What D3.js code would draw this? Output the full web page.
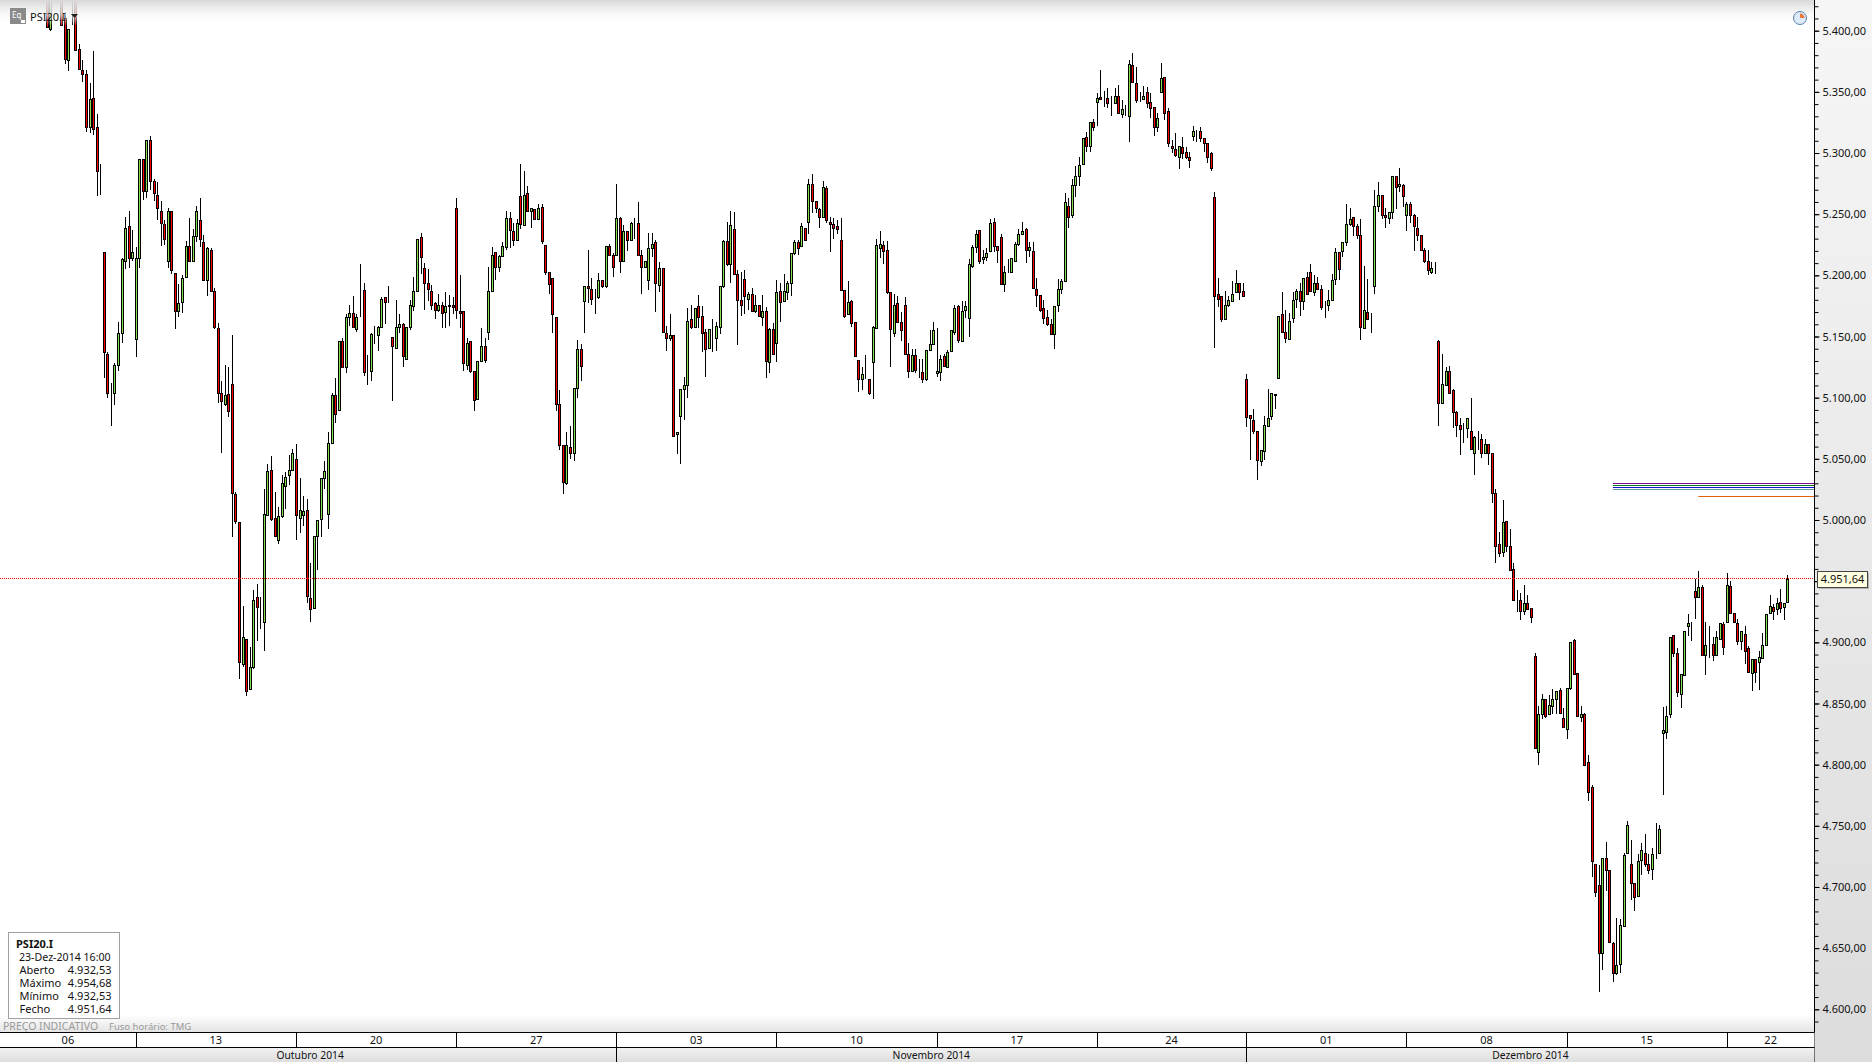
<!DOCTYPE html>
<html><head><meta charset="utf-8">
<script src="https://cdnjs.cloudflare.com/ajax/libs/d3/7.8.5/d3.min.js"></script>
<style>html,body{margin:0;padding:0;background:#fff;overflow:hidden}svg{display:block}text{font-family:"Noto Sans",sans-serif;font-size:11px;fill:#111}</style>
</head><body><svg id="c" width="1872" height="1062"></svg>
<script>
const opens=[5450,5401,5470,5445,5450,5410,5376,5430,5435,5385,5368,5365,5321,5345,5321,5285,5219,5136,5104,5104,5127,5153,
5212,5240,5214,5148,5214,5295,5269,5311,5277,5266,5253,5242,5212,5253,5202,5171,5178,5199,5224,5212,5232,5245,5227,5196,5221,5187,5157,
5104,5095,5103,5111,5021,4998,4882,4903,4862,4880,4937,4928,4917,5004,5041,5002,4984,5003,5028,5037,5041,5050,5002,5004,5008,4936,4928,4987,5001,5034,5005,5063,5102,5090,
5146,5125,5166,5169,5156,5190,5188,5122,5122,5151,5151,5158,5182,5178,5150,5141,5158,5160,5132,5158,5175,5187,5231,5206,5194,5187,5177,5172,5176,5170,5176,5176,5255,5171,5171,5127,5146,5122,5099,5130,5142,5154,5187,5219,5207,5216,5223,5247,5236,5229,5265,5241,5267,5253,5254,5246,5256,5225,5203,5198,5166,5095,5061,5030,5060,5055,5108,5140,5179,5191,5189,5182,5182,5196,5191,5224,5217,5217,5247,5212,5236,5229,5243,5243,
5217,5207,5196,5222,5227,5192,5206,5153,5149,5151,
5070,5085,5107,5110,5164,5158,5175,5167,5154,5141,
5150,5149,5158,5191,5228,5209,5238,5201,5180,5197,
5181,5185,5171,5176,5166,5171,5129,5156,5145,5187,
5179,5186,5194,5218,5227,5224,5239,5244,5275,5261,
5254,5248,5271,5244,5242,5240,5229,5188,5168,5179,
5162,5131,5115,5117,5115,5129,5157,5222,5225,5221,
5186,5153,5177,5162,5176,5136,5122,5135,5122,5121,
5115,5139,5144,5120,5121,5134,5125,5138,5154,5175,
5146,5172,5165,5208,5223,5237,5213,5215,5220,5244,
5224,5231,5193,5203,5203,5212,5226,5234,5238,5221,
5220,5189,5184,5173,5166,5160,5152,5176,5189,5195,
5257,5249,5274,5281,5291,5313,5306,5325,5342,5346,
5345,5345,5342,5341,5347,5332,5337,5330,5372,5357,
5344,5344,5350,5342,5338,5321,5350,5362,5334,5306,
5303,5297,5305,5301,5297,5314,5318,5318,5312,5308,
5300,5264,5185,5183,5164,5176,5179,5186,5194,5187,
5115,5086,5082,5073,5048,5056,5077,5085,5103,5116,
5168,5154,5148,5165,5181,5187,5179,5199,5203,5186,
5194,5189,5177,5176,5180,5197,5219,5220,5227,5242,
5248,5240,5233,5157,5170,5165,5191,5257,5266,5249,
5247,5252,5281,5273,5274,5249,5258,5249,5239,5233,
5221,5212,5203,5206,5146,5096,5110,5122,5106,5088,
5078,5076,5075,5073,5055,5067,5066,5055,5062,5055,
5022,4980,4974,4999,4979,4960,4936,4935,4926,4932,
4928,4889,4810,4841,4854,4841,4848,4854,4861,4838,
4829,4863,4902,4875,4839,4841,4802,4782,4719,4702,
4646,4724,4714,4654,4630,4637,4668,4728,4719,4703,
4693,4722,4728,4719,4715,4728,4728,4826,4827,4841,
4906,4891,4858,4873,4913,4914,4942,4937,4945,4890,
4899,4899,4890,4903,4915,4917,4946,4924,4916,4901,
4907,4895,4875,4886,4884,4887,4898,4924,4929,4927,
4933,4929,4933];
const closes=[5403,5445,5450,5465,5405,5377,5401,5445,5384,5369,5365,5321,5344,5320,5285,5285,5137,5104,5104,5127,5153,5213,
5239,5214,5219,5214,5295,5269,5311,5277,5267,5255,5243,5230,5253,5204,5171,5177,5198,5224,5212,5232,5253,5230,5196,5222,5187,5158,5104,
5097,5102,5089,5022,4999,4884,4904,4860,4880,4935,4929,4928,5005,5040,5001,4987,5003,5030,5035,5041,5055,5004,5008,5007,4938,4927,4987,5000,5034,5040,5063,5102,5087,5146,
5125,5166,5169,5158,5166,5190,5121,5122,5152,5151,5158,5181,5178,5178,5142,5158,5160,5134,5158,5176,5187,5230,5215,5194,5189,5176,5172,5176,5169,5175,5175,5174,5172,5169,5128,5145,5122,5098,5130,5142,5131,5187,5217,5207,5216,5224,5247,5237,5229,5243,5242,5266,5253,5255,5246,5255,5228,5203,5193,5168,5095,5061,5031,5061,5055,5108,5140,5126,5191,5190,5181,5182,5196,5191,5224,5217,5207,5247,5212,5236,5229,5243,5243,5217,
5207,5212,5222,5226,5194,5206,5154,5149,5151,5069,
5072,5107,5110,5163,5158,5173,5166,5153,5140,5156,
5150,5159,5191,5228,5209,5241,5201,5180,5176,5183,
5185,5171,5176,5167,5171,5130,5156,5136,5186,5178,
5187,5194,5218,5227,5222,5240,5229,5275,5261,5255,
5248,5272,5245,5242,5239,5238,5188,5167,5178,5161,
5134,5115,5119,5117,5104,5158,5225,5226,5220,5186,
5156,5176,5162,5155,5136,5122,5135,5123,5122,5115,
5139,5144,5155,5122,5132,5126,5137,5155,5173,5147,
5171,5175,5209,5223,5234,5212,5215,5218,5243,5224,
5221,5193,5203,5203,5214,5226,5234,5236,5221,5223,
5190,5184,5172,5165,5160,5152,5175,5189,5195,5260,
5248,5274,5281,5290,5312,5306,5325,5321,5345,5344,
5345,5341,5342,5347,5333,5336,5337,5373,5358,5343,
5344,5347,5341,5337,5321,5329,5361,5333,5308,5304,
5298,5306,5300,5297,5294,5318,5318,5312,5308,5297,
5288,5183,5181,5164,5176,5180,5185,5194,5186,5183,
5084,5083,5073,5049,5057,5078,5083,5104,5102,5167,
5154,5149,5163,5180,5187,5179,5198,5185,5187,5194,
5189,5174,5177,5180,5196,5219,5205,5227,5242,5246,
5240,5233,5158,5172,5164,5165,5257,5266,5249,5248,
5252,5281,5272,5275,5265,5258,5249,5240,5233,5221,
5212,5204,5206,5206,5096,5111,5122,5104,5088,5078,
5074,5076,5083,5058,5068,5067,5055,5062,5055,5022,
4979,4973,4998,4979,4959,4935,4936,4926,4932,4927,
4921,4814,4841,4854,4840,4849,4854,4860,4842,4831,
4863,4900,4874,4840,4841,4800,4778,4721,4696,4646,
4724,4714,4655,4630,4636,4669,4726,4751,4703,4692,
4721,4730,4719,4714,4727,4728,4747,4828,4840,4904,
4891,4859,4874,4909,4916,4914,4937,4945,4890,4898,
4899,4890,4904,4916,4896,4947,4924,4917,4901,4909,
4893,4876,4886,4876,4888,4898,4923,4930,4926,4932,
4928,4932,4952];
const highs=[5455,5450,5480,5470,5455,5415,5401,5450,5440,5389,5376,5368,5357,5383,5332,5291,5219,5137,5112,5128,5162,5214,
5248,5253,5237,5223,5295,5295,5311,5314,5279,5276,5261,5245,5255,5253,5202,5193,5200,5228,5247,5238,5257,5263,5233,5223,5222,5190,5161,
5114,5127,5125,5151,5023,4998,4930,4903,4896,4943,4948,4937,5025,5046,5052,5023,5011,5037,5039,5053,5058,5062,5034,5020,5017,4965,4987,5000,5034,5048,5072,5104,5116,5146,
5149,5168,5176,5183,5168,5209,5194,5135,5153,5159,5159,5182,5182,5191,5150,5180,5168,5161,5158,5180,5199,5230,5235,5210,5205,5192,5178,5185,5178,5186,5184,5182,5263,5200,5171,5149,5146,5122,5130,5157,5149,5207,5223,5219,5217,5227,5253,5252,5243,5246,5291,5285,5273,5255,5254,5258,5258,5225,5203,5198,5166,5106,5061,5072,5077,5108,5147,5144,5191,5221,5198,5189,5202,5196,5224,5226,5218,5275,5248,5241,5236,5244,5247,5260,
5221,5212,5235,5235,5229,5211,5206,5159,5168,5151,
5072,5107,5117,5173,5176,5173,5184,5175,5156,5156,
5164,5162,5191,5229,5244,5253,5252,5204,5203,5204,
5186,5190,5184,5176,5184,5174,5157,5161,5196,5194,
5201,5195,5218,5229,5229,5243,5239,5279,5283,5261,
5255,5277,5273,5248,5247,5245,5247,5188,5195,5180,
5162,5131,5125,5135,5115,5159,5230,5236,5228,5228,
5186,5185,5183,5170,5182,5145,5140,5140,5132,5132,
5139,5155,5162,5157,5135,5136,5139,5155,5176,5176,
5179,5179,5213,5225,5237,5237,5221,5222,5246,5247,
5224,5234,5208,5213,5214,5227,5238,5244,5239,5227,
5227,5198,5184,5180,5172,5164,5175,5197,5197,5267,
5263,5279,5289,5297,5312,5317,5325,5328,5349,5368,
5351,5353,5347,5353,5356,5343,5339,5376,5382,5370,
5350,5355,5354,5349,5338,5333,5374,5362,5337,5311,
5316,5306,5313,5305,5301,5322,5319,5321,5312,5308,
5301,5268,5198,5183,5187,5183,5195,5204,5194,5194,
5119,5086,5091,5073,5057,5085,5107,5104,5103,5167,
5186,5172,5169,5186,5189,5194,5198,5203,5209,5200,
5199,5192,5179,5188,5201,5222,5219,5227,5258,5255,
5248,5242,5246,5208,5197,5169,5270,5276,5266,5255,
5252,5281,5281,5288,5275,5260,5260,5250,5248,5233,
5222,5221,5211,5211,5147,5136,5125,5126,5107,5089,
5083,5079,5083,5100,5069,5073,5070,5066,5062,5055,
5025,4990,5016,4999,4993,4965,4943,4940,4947,4939,
4928,4891,4848,4858,4854,4857,4862,4860,4863,4846,
4863,4900,4903,4875,4848,4842,4808,4783,4719,4718,
4724,4737,4714,4655,4675,4674,4728,4754,4738,4703,
4727,4736,4743,4727,4732,4752,4751,4847,4848,4904,
4906,4895,4874,4909,4923,4917,4952,4958,4947,4917,
4913,4904,4909,4916,4917,4957,4950,4924,4919,4909,
4913,4897,4886,4886,4893,4908,4923,4939,4931,4936,
4944,4932,4955];
const lows=[5403,5400,5445,5440,5405,5373,5367,5405,5383,5369,5358,5317,5316,5315,5265,5266,5116,5100,5077,5094,5122,5145,
5205,5206,5212,5133,5206,5262,5263,5270,5261,5245,5224,5225,5206,5201,5156,5166,5169,5199,5212,5212,5227,5223,5195,5183,5187,5156,5096,
5055,5093,5084,4986,4997,4870,4880,4856,4862,4878,4901,4911,4893,5004,4999,4986,4980,5002,5009,5029,5040,4984,4989,4995,4932,4917,4927,4959,4986,5025,4993,5063,5079,5089,
5125,5120,5159,5158,5154,5166,5118,5110,5114,5144,5138,5158,5160,5177,5097,5141,5153,5125,5132,5155,5171,5186,5201,5172,5179,5172,5164,5170,5157,5157,5159,5168,5164,5157,5122,5123,5120,5089,5098,5129,5128,5147,5187,5196,5203,5215,5221,5222,5224,5228,5238,5241,5253,5239,5245,5245,5226,5200,5185,5153,5089,5057,5021,5029,5050,5048,5100,5114,5153,5177,5176,5168,5181,5190,5190,5217,5199,5217,5202,5212,5220,5228,5230,5216,
5185,5207,5188,5215,5170,5186,5154,5138,5146,5068,
5054,5046,5082,5100,5156,5157,5157,5137,5117,5140,
5137,5138,5152,5190,5208,5194,5200,5143,5167,5168,
5172,5171,5169,5166,5159,5116,5120,5135,5129,5162,
5178,5180,5183,5217,5217,5223,5229,5234,5251,5251,
5239,5247,5243,5219,5230,5234,5188,5165,5168,5158,
5133,5105,5106,5115,5102,5099,5157,5214,5209,5185,
5125,5150,5161,5146,5135,5116,5122,5120,5116,5112,
5114,5138,5143,5117,5114,5125,5124,5137,5151,5145,
5146,5165,5150,5206,5218,5209,5209,5212,5219,5219,
5210,5192,5186,5202,5203,5211,5224,5233,5210,5215,
5189,5174,5170,5160,5159,5151,5140,5170,5185,5195,
5239,5247,5264,5273,5290,5301,5301,5318,5322,5343,
5338,5337,5330,5341,5332,5329,5330,5309,5358,5341,
5342,5343,5337,5329,5314,5317,5349,5327,5305,5300,
5297,5287,5295,5295,5288,5310,5309,5309,5301,5292,
5285,5141,5174,5162,5164,5174,5178,5186,5180,5183,
5076,5049,5070,5033,5044,5049,5077,5082,5091,5116,
5154,5145,5148,5161,5173,5167,5172,5185,5187,5183,
5188,5172,5165,5171,5180,5192,5196,5215,5224,5240,
5232,5230,5147,5157,5164,5153,5185,5252,5246,5239,
5242,5246,5254,5268,5256,5236,5243,5220,5228,5221,
5210,5200,5201,5201,5077,5095,5110,5104,5075,5068,
5053,5063,5067,5057,5037,5057,5051,5054,5045,5014,
4965,4970,4970,4974,4958,4935,4925,4918,4922,4927,
4916,4814,4800,4837,4838,4841,4841,4841,4841,4830,
4821,4861,4874,4840,4835,4800,4770,4708,4692,4614,
4632,4697,4655,4622,4628,4630,4668,4727,4689,4680,
4693,4710,4716,4711,4706,4723,4728,4775,4821,4838,
4888,4855,4846,4873,4905,4901,4919,4937,4889,4873,
4887,4885,4889,4903,4890,4917,4924,4916,4898,4894,
4882,4876,4860,4867,4861,4887,4897,4924,4918,4922,
4924,4918,4933];

const priceTicks=d3.range(4600,5401,50);
const minorTicks=d3.range(4590,5421,10);
const weekLabels=["06","13","20","27","03","10","17","24","01","08","15","22"];
const weekBreaks=[25,70,115,160,205,250,295,337,382,427,472];
const monthLabels=["Outubro 2014","Novembro 2014","Dezembro 2014"];
const monthBreaks=[160,337];
const levelPrices=[5030,5028.4,5026.7,5025.1,5019.4];
const levelStarts=[440,440,440,440,464];
const levelColors=["#7a0a86","#0a7a1e","#1414c8","#5f9aa8","#e0600f"];
const lastPrice=4951.64;
const infoRows=[["Aberto","4.932,53"],["Máximo","4.954,68"],["Mínimo","4.932,53"],["Fecho","4.951,64"]];

const n=Math.min(opens.length,closes.length,highs.length,lows.length);
const W=1872,H=1062,axisX=1814.5,xAxisTop=1032;
const xs=d3.scaleLinear().domain([0,n-1]).range([46.8,1787.3]);
const ys=d3.scaleLinear().domain([4600,5400]).range([1009.3,30.7]);
const svg=d3.select("#c");
const defs=svg.append("defs");
function grad(id,stops){const g=defs.append("linearGradient").attr("id",id).attr("x1",0).attr("x2",0).attr("y1",0).attr("y2",1);
 stops.forEach(([o,c,a])=>g.append("stop").attr("offset",o).attr("stop-color",c).attr("stop-opacity",a==null?1:a));}
grad("top",[[0,"#d8d8d8",1],[.55,"#f6f6f6",.75],[1,"#ffffff",0]]);
grad("fade",[[0,"#ffffff",1],[1,"#e4e4e4",1]]);
grad("side",[[0,"#f6f6f6"],[1,"#dcdcdc"]]);
grad("month",[[0,"#f2f2f2"],[1,"#dedede"]]);

svg.append("rect").attr("width",W).attr("height",H).attr("fill","#fff");
svg.append("rect").attr("x",axisX).attr("width",W-axisX).attr("height",H).attr("fill","url(#side)");

const chart=svg.append("g");
const px=i=>Math.round(xs(i));
const g=chart.selectAll("g.c").data(d3.range(n)).join("g");
g.append("line").attr("x1",i=>px(i)+.5).attr("x2",i=>px(i)+.5).attr("y1",i=>ys(highs[i])).attr("y2",i=>ys(lows[i])).attr("stroke","#000").attr("shape-rendering","crispEdges");
g.append("rect")
 .attr("x",i=>px(i)-.5).attr("width",2)
 .attr("y",i=>Math.round(ys(Math.max(opens[i],closes[i])))+.5)
 .attr("height",i=>Math.max(0,Math.round(ys(Math.min(opens[i],closes[i])))-Math.round(ys(Math.max(opens[i],closes[i])))))
 .attr("fill",i=>closes[i]>=opens[i]?"#86e04c":"#ff0000").attr("stroke","#000").attr("stroke-width",1);

levelPrices.forEach((p,k)=>{chart.append("line").attr("x1",xs(levelStarts[k])).attr("x2",axisX).attr("y1",Math.round(ys(p))+.5).attr("y2",Math.round(ys(p))+.5).attr("stroke",levelColors[k]).attr("stroke-width",1.2);});
const lastY=Math.floor(ys(lastPrice)-.5)+.5;
chart.append("line").attr("x1",0).attr("x2",axisX).attr("y1",lastY).attr("y2",lastY).attr("stroke","#ff0000").attr("stroke-dasharray","1 1").attr("shape-rendering","crispEdges");

// toolbar
svg.append("rect").attr("width",axisX).attr("height",26).attr("fill","url(#top)");
const ico=svg.append("g");
ico.append("rect").attr("x",10).attr("y",8).attr("width",16).attr("height",16).attr("fill","#8a8a8a");
ico.append("text").attr("x",12).attr("y",18).text("Eq").style("font-size","8px").style("fill","#fff");
ico.append("rect").attr("x",21).attr("y",20).attr("width",4).attr("height",3).attr("fill","#fff");
svg.append("text").attr("x",30).attr("y",21).text("PSI20.I").style("font-size","11px");
svg.append("path").attr("d","M71 14h7l-3.5 4z").attr("fill","#222");
// clock
const ck=svg.append("g").attr("transform","translate(1800,18)");
ck.append("circle").attr("r",6.5).attr("fill","#dcebf7").attr("stroke","#5a7fa8").attr("stroke-width",1);
ck.append("path").attr("d","M0 0V-4.5A4.5 4.5 0 0 1 4.5 0Z").attr("fill","#e8783a");

// bottom fade + status
svg.append("rect").attr("y",1015).attr("width",axisX).attr("height",17).attr("fill","url(#fade)");
svg.append("text").attr("x",3).attr("y",1030).text("PREÇO INDICATIVO").style("fill","#999").style("font-size","10.5px");
svg.append("text").attr("x",109).attr("y",1030).text("Fuso horário: TMG").style("fill","#999").style("font-size","9.5px");

// info box
const box=svg.append("g");
box.append("rect").attr("x",8.5).attr("y",932.5).attr("width",111).attr("height",86).attr("fill","#fff").attr("stroke","#a0a0a0");
box.append("text").attr("x",16).attr("y",948).text("PSI20.I").style("font-weight","700").style("font-size","11px");
box.append("text").attr("x",19).attr("y",961).text("23-Dez-2014 16:00").style("font-size","10.6px");
infoRows.forEach((r,k)=>{const y=974+k*13;
 box.append("text").attr("x",19.5).attr("y",y).text(r[0]);
 box.append("text").attr("x",111.5).attr("y",y).attr("text-anchor","end").text(r[1]);});

// y axis
const fmt=d3.formatLocale({decimal:",",thousands:".",grouping:[3],currency:["",""]}).format(",.2f");
const ya=svg.append("g").attr("transform",`translate(${axisX},0)`);
ya.call(d3.axisRight(ys).tickValues(minorTicks).tickSize(4).tickFormat("")).call(s=>s.select(".domain").remove()).selectAll("line").attr("stroke","#000");
const yb=svg.append("g").attr("transform",`translate(${axisX},0)`);
yb.call(d3.axisRight(ys).tickValues(priceTicks).tickSize(5).tickPadding(3).tickFormat(fmt)).call(s=>s.select(".domain").remove());
yb.selectAll("line").attr("stroke","#000");
yb.selectAll("text").style("font-family",'"Noto Sans",sans-serif').style("font-size","11px").style("fill","#111").attr("dy","0.32em");
svg.append("line").attr("x1",axisX).attr("x2",axisX).attr("y1",0).attr("y2",H).attr("stroke","#000");

// price flag
const pf=svg.append("g");
pf.append("rect").attr("x",1819).attr("y",573).attr("width",50).attr("height",16).attr("fill","#8c8c8c").attr("opacity",.55);
pf.append("rect").attr("x",1817.5).attr("y",571.5).attr("width",50).attr("height",16).attr("fill","#ffffe1").attr("stroke","#444");
pf.append("text").attr("x",1842.5).attr("y",lastY+4).attr("text-anchor","middle").text(fmt(lastPrice));

// time axis
svg.append("rect").attr("y",xAxisTop).attr("width",axisX).attr("height",15).attr("fill","#fff");
svg.append("rect").attr("y",xAxisTop+15).attr("width",axisX).attr("height",15).attr("fill","url(#month)");
[xAxisTop+.5,xAxisTop+15.5].forEach(y=>svg.append("line").attr("x1",0).attr("x2",axisX).attr("y1",y).attr("y2",y).attr("stroke","#000"));
const rightIdx=xs.invert(axisX);
const wb=[xs.invert(0),...weekBreaks,rightIdx];
weekLabels.forEach((t,k)=>{svg.append("text").attr("x",(xs(wb[k])+xs(wb[k+1]))/2).attr("y",xAxisTop+12).attr("text-anchor","middle").text(t);});
weekBreaks.forEach(b=>{const x=Math.round(xs(b))+.5;svg.append("line").attr("x1",x).attr("x2",x).attr("y1",xAxisTop).attr("y2",xAxisTop+15).attr("stroke","#000");});
const mb=[xs.invert(0),...monthBreaks,rightIdx];
monthLabels.forEach((t,k)=>{svg.append("text").attr("x",(xs(mb[k])+xs(mb[k+1]))/2+(k===0?2:0)).attr("y",xAxisTop+27).attr("text-anchor","middle").text(t).style("font-size","10.3px");});
monthBreaks.forEach(b=>{const x=Math.round(xs(b))+.5;svg.append("line").attr("x1",x).attr("x2",x).attr("y1",xAxisTop+15).attr("y2",H).attr("stroke","#000");});
</script></body></html>
